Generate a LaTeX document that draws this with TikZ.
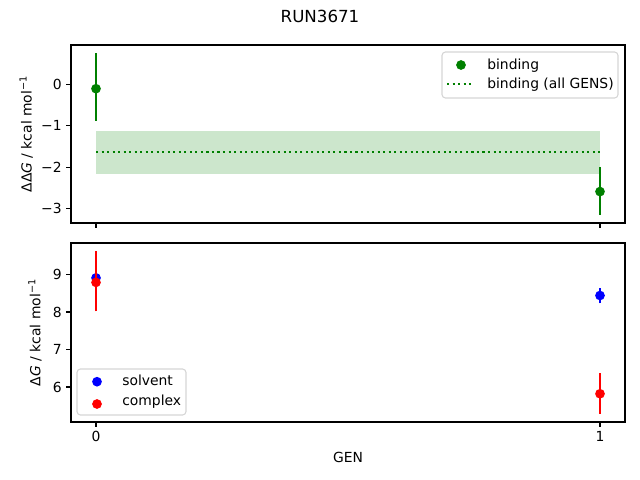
\documentclass[tikz,border=0pt]{standalone}
\usepackage{fontspec}
\setmainfont{DejaVu Sans}
\usepackage{xcolor}
\usepackage{tikz}
\usetikzlibrary{positioning}
\definecolor{mplgreen}{HTML}{008000}
\definecolor{mplblue}{HTML}{0000FF}
\definecolor{mplred}{HTML}{FF0000}
\definecolor{bandgreen}{HTML}{CCE6CC}
\definecolor{legendedge}{HTML}{CCCCCC}

\begin{document}
\begin{tikzpicture}[x=0.72pt,y=-0.72pt]
	\tikzstyle{datum}=[circle,inner sep=0pt,minimum size=7pt]
	\tikzstyle{spine}=[line width=0.8pt]
	\tikzstyle{errbar}=[line width=1.5pt]
	\tikzstyle{ticklabel}=[inner sep=0pt,font=\fontsize{10}{12}\selectfont]
	\tikzstyle{legendbox}=[draw=legendedge,fill=white,opacity=0.8,rounded corners=2.5pt,line width=0.8pt]
	\useasboundingbox (0,0) rectangle (640,480);

	% title
	\node[font=\fontsize{12}{14}\selectfont](title) at (320,16){RUN3671};

	% top panel: binding
	\begin{scope}[shift={(96,84.3)},xscale=504,yscale=-41.5]
		\fill[bandgreen] (0,-1.12) rectangle (1,-2.16);
		\draw[mplgreen,line width=1.5pt,dash pattern=on 1.5pt off 2.475pt] (0,-1.63) -- (1,-1.63);
		\draw[errbar,mplgreen] (0,0.75) -- (0,-0.89) (1,-1.99) -- (1,-3.14);
		\node[datum,fill=mplgreen](bind0) at (0,-0.106){};
		\node[datum,fill=mplgreen](bind1) at (1,-2.585){};
	\end{scope}
	\draw[spine] (71,45) rectangle (625,223);
	\foreach \x in {96,600}
		\draw[spine] (\x,223) -- (\x,227.9);
	\foreach \y/\lab in {84.3/0,125.8/−1,167.3/−2,208.8/−3}{
		\draw[spine] (71,\y) -- (66.1,\y);
		\node[ticklabel,anchor=east] at (62,\y){\lab};
	}
	\node[ticklabel,rotate=90,anchor=south](ylabtop) at (33.3,134){ΔΔ\textit{G} / kcal mol\textsuperscript{−1}};

	% top legend
	\draw[legendbox] (442,52) rectangle (618,98);
	\node[datum,fill=mplgreen](legbind) at (461,65){};
	\draw[mplgreen,line width=1.5pt,dash pattern=on 1.5pt off 2.475pt] (447,84.3) -- (474,84.3);
	\node[ticklabel,anchor=base west] at (487,69.3){binding};
	\node[ticklabel,anchor=base west] at (487,88.7){binding (all GENS)};

	% bottom panel: solvent and complex
	\begin{scope}[shift={(96,612)},xscale=504,yscale=-37.5]
		\draw[errbar,mplblue] (0,8.86) -- (0,8.96) (1,8.23) -- (1,8.65);
		\node[datum,fill=mplblue](solv0) at (0,8.91){};
		\node[datum,fill=mplblue](solv1) at (1,8.44){};
		\draw[errbar,mplred] (0,8.02) -- (0,9.63) (1,5.29) -- (1,6.38);
		\node[datum,fill=mplred](cplx0) at (0,8.79){};
		\node[datum,fill=mplred](cplx1) at (1,5.82){};
	\end{scope}
	\draw[spine] (71,243) rectangle (625,422);
	\foreach \x/\lab in {96/0,600/1}{
		\draw[spine] (\x,422) -- (\x,426.9);
		\node[ticklabel] at (\x,436.7){\lab};
	}
	\foreach \y/\lab in {274.5/9,312/8,349.5/7,387/6}{
		\draw[spine] (71,\y) -- (66.1,\y);
		\node[ticklabel,anchor=east] at (62,\y){\lab};
	}
	\node[ticklabel,rotate=90,anchor=south](ylabbot) at (42,332.5){Δ\textit{G} / kcal mol\textsuperscript{−1}};
	\node[ticklabel](xlab) at (348,457){GEN};

	% bottom legend
	\draw[legendbox] (77,369) rectangle (186,415);
	\node[datum,fill=mplblue](legsolv) at (97,381.7){};
	\node[datum,fill=mplred](legcplx) at (97,404){};
	\node[ticklabel,anchor=base west] at (122,385){solvent};
	\node[ticklabel,anchor=base west] at (122,405.7){complex};
\end{tikzpicture}
\end{document}
